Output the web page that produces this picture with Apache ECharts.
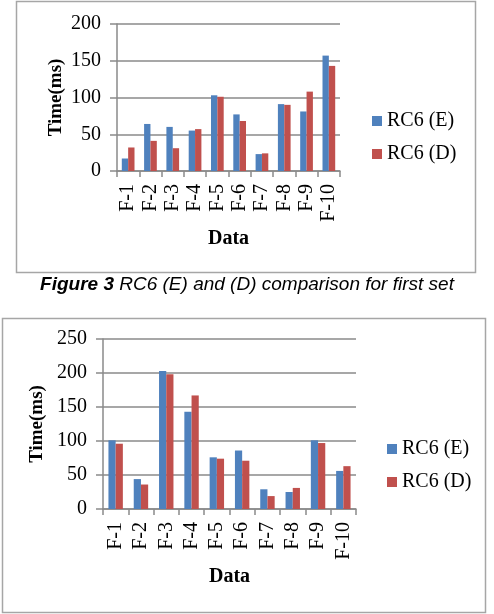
<!DOCTYPE html>
<html>
<head>
<meta charset="utf-8">
<script src="https://cdn.jsdelivr.net/npm/echarts@6/dist/echarts.min.js"></script>
<style>
  html, body { margin: 0; padding: 0; background: #fff; }
  #main { width: 494px; height: 614px; }
</style>
</head>
<body>
<div id="main"></div>
<script>
// categories shared by both charts
var categories = ['F-1', 'F-2', 'F-3', 'F-4', 'F-5', 'F-6', 'F-7', 'F-8', 'F-9', 'F-10'];

// first set (top chart)
var set1Enc = [17, 64, 60, 55, 103, 77, 23, 91, 81, 157];
var set1Dec = [32, 41, 31, 57, 101, 68, 24, 90, 108, 143];

// second set (bottom chart)
var set2Enc = [101, 44, 203, 143, 76, 86, 29, 25, 101, 56];
var set2Dec = [96, 36, 198, 167, 74, 71, 19, 31, 97, 63];

var seriesNames = ['RC6 (E)', 'RC6 (D)'];
var captionBold = 'Figure 3';
var captionRest = ' RC6 (E) and (D) comparison for first set';

var serif = '"Liberation Serif", "Times New Roman", serif';
var sans = '"Liberation Sans", Arial, sans-serif';
var gridColor = '#8a8a8a';
var blue = '#4F81BD';
var red = '#C0504D';

var chartDom = document.getElementById('main');
var myChart = echarts.init(chartDom);

function xAxisFor(gridIndex) {
  return {
    type: 'category',
    gridIndex: gridIndex,
    data: categories,
    name: 'Data',
    nameLocation: 'middle',
    nameGap: 58,
    nameTextStyle: { fontFamily: serif, fontSize: 20, fontWeight: 'bold', color: '#000' },
    axisLine: { lineStyle: { color: gridColor, width: 1.5 } },
    axisTick: { show: true, length: 6, lineStyle: { color: gridColor, width: 1.5 } },
    axisLabel: { interval: 0, rotate: 90, margin: 13, fontFamily: serif, fontSize: 20, color: '#000' }
  };
}

function yAxisFor(gridIndex, max) {
  return {
    type: 'value',
    gridIndex: gridIndex,
    min: 0,
    max: max,
    interval: 50,
    name: 'Time(ms)',
    nameLocation: 'middle',
    nameRotate: 90,
    nameGap: 51,
    nameTextStyle: { fontFamily: serif, fontSize: 19, fontWeight: 'bold', color: '#000' },
    axisLine: { show: true, lineStyle: { color: gridColor, width: 1.5 } },
    axisTick: { show: true, length: 7, lineStyle: { color: gridColor, width: 1.5 } },
    axisLabel: { margin: 16, fontFamily: serif, fontSize: 20, color: '#000' },
    splitLine: { lineStyle: { color: gridColor, width: 1.5 } }
  };
}

function barSeries(name, data, color, idx) {
  return {
    name: name,
    type: 'bar',
    xAxisIndex: idx,
    yAxisIndex: idx,
    data: data,
    barGap: '0%',
    barCategoryGap: '43%',
    itemStyle: { color: color }
  };
}

var option = {
  animation: false,
  grid: [
    { left: 117, right: 154, top: 24, bottom: 443 },
    { left: 103, right: 138, top: 339, bottom: 105 }
  ],
  xAxis: [xAxisFor(0), xAxisFor(1)],
  yAxis: [yAxisFor(0, 200), yAxisFor(1, 250)],
  legend: [
    {
      orient: 'vertical', left: 367, top: 106, itemGap: 13,
      itemWidth: 10, itemHeight: 10, icon: 'rect',
      textStyle: { fontFamily: serif, fontSize: 20, color: '#000' },
      data: seriesNames
    },
    {
      orient: 'vertical', left: 382, top: 434, itemGap: 13,
      itemWidth: 10, itemHeight: 10, icon: 'rect',
      textStyle: { fontFamily: serif, fontSize: 20, color: '#000' },
      data: seriesNames
    }
  ],
  series: [
    barSeries(seriesNames[0], set1Enc, blue, 0),
    barSeries(seriesNames[1], set1Dec, red, 0),
    barSeries(seriesNames[0], set2Enc, blue, 1),
    barSeries(seriesNames[1], set2Dec, red, 1)
  ],
  graphic: [
    {
      type: 'rect', silent: true,
      shape: { x: 16.5, y: 1.5, width: 459, height: 271 },
      style: { fill: 'none', stroke: '#a6a6a6', lineWidth: 1.5 }
    },
    {
      type: 'rect', silent: true,
      shape: { x: 2.5, y: 318.5, width: 483, height: 294 },
      style: { fill: 'none', stroke: '#a6a6a6', lineWidth: 1.5 }
    },
    {
      type: 'text', left: 'center', top: 275,
      style: {
        text: '{b|' + captionBold + '}{i|' + captionRest + '}',
        rich: {
          b: { fontFamily: sans, fontSize: 19, fontStyle: 'italic', fontWeight: 'bold', fill: '#000' },
          i: { fontFamily: sans, fontSize: 19, fontStyle: 'italic', fill: '#000' }
        }
      }
    }
  ]
};

myChart.setOption(option);
</script>
</body>
</html>
